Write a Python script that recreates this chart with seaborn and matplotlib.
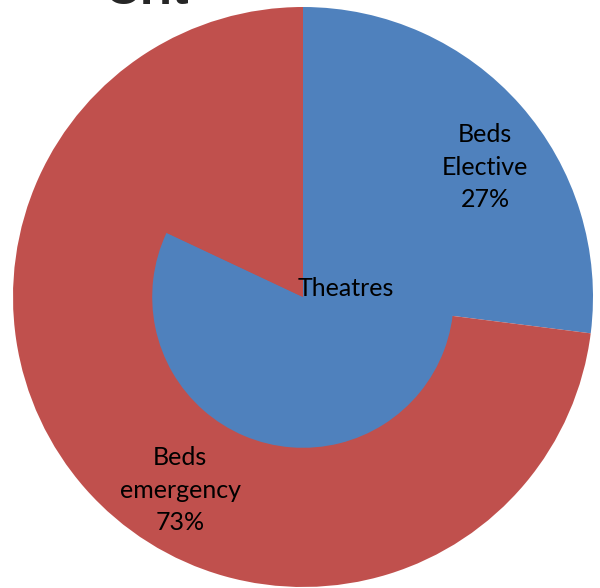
import matplotlib
matplotlib.use("Agg")
import matplotlib.pyplot as plt
import seaborn as sns

sns.set_style("white")
plt.rcParams['font.family'] = ['Lato', 'DejaVu Sans']

# Data
outer_labels = ["Beds\nElective", "Beds\nemergency"]
outer_values = [27, 73]
inner_label = "Theatres"
inner_values = [82, 18]
title_text = "Crit"

palette = ["#4F81BD", "#C0504D"]

W, H = 600, 588
fig = plt.figure(figsize=(W / 100, H / 100), dpi=100)
ax = fig.add_axes([0, 0, 1, 1])

R = 290.0
cx, cy = 303.0, 297.0

ax.pie(outer_values, radius=1.0, startangle=90, counterclock=False,
       colors=palette, wedgeprops=dict(linewidth=0, edgecolor="none"),
       frame=True)
ax.pie(inner_values, radius=0.52, startangle=90, counterclock=False,
       colors=palette, wedgeprops=dict(linewidth=0, edgecolor="none"),
       frame=True)
ax.set_xlim(-cx / R, (W - cx) / R)
ax.set_ylim(-(H - cy) / R, cy / R)
ax.axis("off")

fs = 18
ax.text(0.628, 0.448, f"{outer_labels[0]}\n{outer_values[0]}%", ha="center",
        va="center", fontsize=fs, linespacing=1.5, color="black")
ax.text(-0.424, -0.666, f"{outer_labels[1]}\n{outer_values[1]}%", ha="center",
        va="center", fontsize=fs, linespacing=1.5, color="black")
ax.text(0.148, 0.031, inner_label, ha="center", va="center", fontsize=fs,
        color="black")

fig.text(105 / W, 1 - 4 / H, title_text, ha="left", va="baseline",
         fontsize=35, fontweight="bold", family=["Liberation Sans", "DejaVu Sans"])

fig.savefig("out.png", dpi=100)
